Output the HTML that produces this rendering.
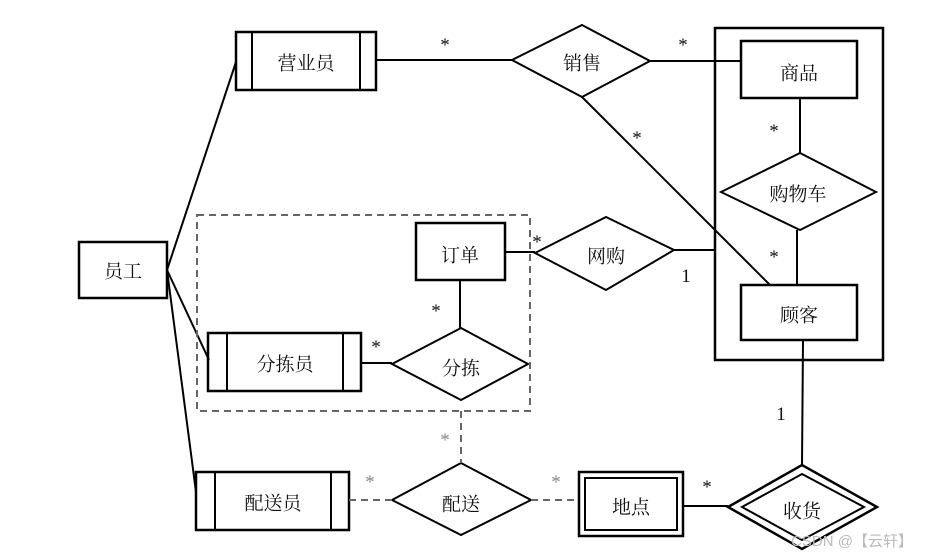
<!DOCTYPE html>
<html><head><meta charset="utf-8"><style>
html,body{margin:0;padding:0;background:#fff;}
svg{display:block;}
text{font-family:"Liberation Serif","Noto Serif CJK SC",serif;}
.t{font-size:19px;text-anchor:middle;dominant-baseline:central;fill:#111;font-family:"Noto Serif CJK SC","Noto Sans CJK SC",serif;}
.s{font-size:19px;text-anchor:middle;fill:#111;}
.g{font-size:19px;text-anchor:middle;fill:#888;}
</style></head><body>
<svg width="929" height="556" viewBox="0 0 929 556" xmlns="http://www.w3.org/2000/svg">
<g fill="none" stroke="#000" stroke-width="2">
<line x1="167" y1="270" x2="236" y2="62"/>
<line x1="167" y1="270" x2="209" y2="360"/>
<line x1="167" y1="270" x2="196" y2="492"/>
<line x1="376" y1="60" x2="512" y2="60"/>
<line x1="650" y1="61" x2="741" y2="61"/>
<line x1="582" y1="97" x2="770" y2="285"/>
<line x1="800" y1="98" x2="800" y2="153"/>
<line x1="797" y1="230" x2="797" y2="285"/>
<line x1="674" y1="250" x2="716" y2="250"/>
<line x1="505" y1="252" x2="535" y2="252"/>
<line x1="460" y1="280" x2="460" y2="328"/>
<line x1="361" y1="363" x2="392" y2="363"/>
<line x1="803" y1="340" x2="802" y2="465"/>
<line x1="683" y1="506" x2="728" y2="506"/>
<rect x="715" y="28" width="168" height="332" stroke-width="2.5"/>
<rect x="79" y="242" width="88" height="56" stroke-width="2.5"/>
<rect x="236" y="32" width="140" height="58" stroke-width="2.5"/>
<line x1="252" y1="32" x2="252" y2="90"/><line x1="360" y1="32" x2="360" y2="90"/>
<rect x="741" y="41" width="116" height="57" stroke-width="2.5"/>
<rect x="741" y="285" width="116" height="55" stroke-width="2.5"/>
<rect x="416" y="223" width="89" height="57" stroke-width="2.5"/>
<rect x="208" y="333" width="153" height="58" stroke-width="2.5"/>
<line x1="227" y1="333" x2="227" y2="391"/><line x1="343" y1="333" x2="343" y2="391"/>
<rect x="196" y="472" width="153" height="58" stroke-width="2.5"/>
<line x1="215" y1="472" x2="215" y2="530"/><line x1="331" y1="472" x2="331" y2="530"/>
<rect x="579" y="472" width="104" height="64" stroke-width="2.5"/>
<rect x="585" y="478" width="92" height="52" stroke-width="2"/>
<polygon points="512,60 582,25 650,61 582,97"/>
<polygon points="721,192 800,153 876,192 800,230"/>
<polygon points="535,253 606,217 674,250 606,290"/>
<polygon points="392,364 461,328 528,364 461,400"/>
<polygon points="392,500 461,463 531,500 461,535"/>
<polygon points="728,507 802,465 877,507 802,549" stroke-width="2.5"/>
<polygon points="742,507 802,474 864,507 802,540" stroke-width="2"/>
</g>
<g fill="none" stroke="#666" stroke-width="2" stroke-dasharray="7,5">
<rect x="197" y="215" width="333" height="196"/>
<line x1="461" y1="411" x2="461" y2="463"/>
<line x1="349" y1="500" x2="392" y2="500"/>
<line x1="531" y1="500" x2="579" y2="500"/>
</g>
<text class="t" x="123" y="270">员工</text>
<text class="t" x="306" y="62">营业员</text>
<text class="t" x="582" y="62">销售</text>
<text class="t" x="799" y="72">商品</text>
<text class="t" x="798" y="193">购物车</text>
<text class="t" x="799" y="314">顾客</text>
<text class="t" x="460" y="254">订单</text>
<text class="t" x="606" y="255">网购</text>
<text class="t" x="285" y="363">分拣员</text>
<text class="t" x="461" y="367">分拣</text>
<text class="t" x="273" y="502">配送员</text>
<text class="t" x="461" y="503">配送</text>
<text class="t" x="631" y="506">地点</text>
<text class="t" x="802" y="510">收货</text>
<text class="s" x="445" y="51">*</text>
<text class="s" x="683" y="51">*</text>
<text class="s" x="637" y="144">*</text>
<text class="s" x="774" y="137">*</text>
<text class="s" x="774" y="263">*</text>
<text class="s" x="686" y="282">1</text>
<text class="s" x="537" y="248">*</text>
<text class="s" x="436" y="317">*</text>
<text class="s" x="376" y="353">*</text>
<text class="g" x="445" y="446">*</text>
<text class="g" x="370" y="488">*</text>
<text class="g" x="556" y="488">*</text>
<text class="s" x="707" y="493">*</text>
<text class="s" x="781" y="420">1</text>
<text x="852" y="546" style="font-size:15px;text-anchor:middle;fill:#bbb;font-family:'Liberation Sans','Noto Sans CJK SC',sans-serif;">CSDN @【云轩】</text>
</svg>
</body></html>
